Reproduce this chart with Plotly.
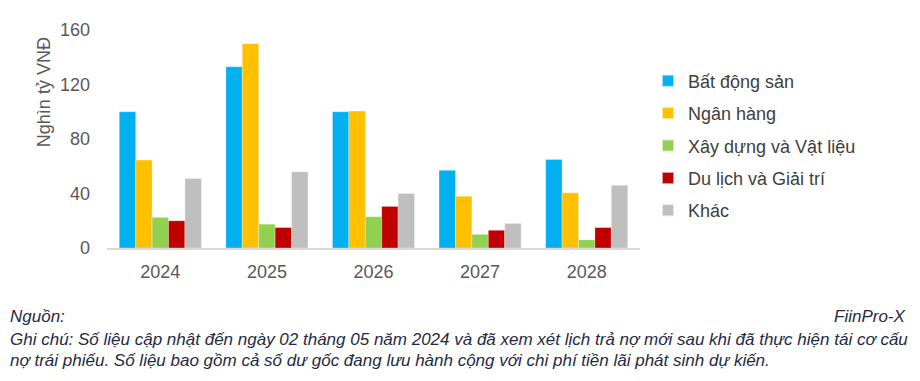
import plotly.graph_objects as go

years = ["2024", "2025", "2026", "2027", "2028"]
series_names = ["Bất động sản", "Ngân hàng", "Xây dựng và Vật liệu", "Du lịch và Giải trí", "Khác"]
bat_dong_san = [100, 133, 100, 57, 65]
ngan_hang = [64.5, 150, 100.5, 38, 40.5]
xay_dung = [22.5, 17.5, 23, 10, 6]
du_lich = [20, 15, 30.5, 13, 15]
khac = [51, 56, 40, 18, 46]
colors = ["#00B0F0", "#FFC000", "#92D050", "#C00000", "#BFBFBF"]
y_ticks = [0, 40, 80, 120, 160]

values = [bat_dong_san, ngan_hang, xay_dung, du_lich, khac]

# page has an 8px body margin; work in figure coordinates (= screen - 8)
OFF = 8
W, H = 920 - OFF, 381 - OFF
L, R, T, B = 107 - OFF, 280, 20 - OFF, 133
plot_h = H - T - B
plot_w = W - L - R
X0, Y0 = L, H - B  # figure pixel of plot-left / plot-bottom


def px_x(x_screen):
    return (x_screen - OFF - X0) / plot_w


def px_y(y_screen):
    return (Y0 - (y_screen - OFF)) / plot_h


fig = go.Figure()
for i, (name, vals, c) in enumerate(zip(series_names, values, colors)):
    fig.add_trace(go.Bar(x=years, y=vals, name=name, legendgroup=f"g{i}",
                         marker=dict(color=c, line=dict(color="rgba(255,255,255,0.6)", width=0.5))))

font_family = "Liberation Sans, Arial, sans-serif"
fig.update_layout(
    width=W, height=H,
    margin=dict(l=L, r=R, t=T, b=B),
    paper_bgcolor="white", plot_bgcolor="white",
    barmode="group", bargap=0.23, bargroupgap=0,
    font=dict(family=font_family, color="#595959", size=18),
    showlegend=True,
    legend=dict(x=px_x(648), y=px_y(54), xanchor="left", yanchor="top",
                font=dict(size=18, color="#404040"), tracegroupgap=6, itemsizing="constant",
                traceorder="grouped", itemwidth=30),
    xaxis=dict(showline=True, linecolor="#D9D9D9", linewidth=1.5, ticks="", showgrid=False,
               tickfont=dict(size=18, color="#595959"), ticklabelstandoff=7),
    yaxis=dict(range=[0, 160], tickvals=y_ticks, showgrid=False, zeroline=False, showline=False,
               tickfont=dict(size=18, color="#595959"), ticks="", ticklabelstandoff=16),
)

fig.add_annotation(text="Nghìn tỷ VNĐ", xref="paper", yref="paper",
                   x=px_x(44), y=px_y(85), textangle=-90,
                   showarrow=False, font=dict(size=18, color="#595959"),
                   xanchor="center", yanchor="middle")

foot_font = dict(family="Liberation Sans, Arial, sans-serif", size=17, color="#1F2A44")


def foot(text, xs, ys, anchor="left"):
    fig.add_annotation(text=f"<i>{text}</i>", xref="paper", yref="paper",
                       x=px_x(xs), y=px_y(ys),
                       xanchor=anchor, yanchor="middle", showarrow=False, font=foot_font)


foot("Nguồn:", 8, 320)
foot("FiinPro-X", 908, 320, anchor="right")
foot("Ghi chú: Số liệu cập nhật đến ngày 02 tháng 05 năm 2024 và đã xem xét lịch trả nợ mới sau khi đã thực hiện tái cơ cấu", 8, 344)
foot("nợ trái phiếu. Số liệu bao gồm cả số dư gốc đang lưu hành cộng với chi phí tiền lãi phát sinh dự kiến.", 8, 366)

fig.write_html("out.html")
